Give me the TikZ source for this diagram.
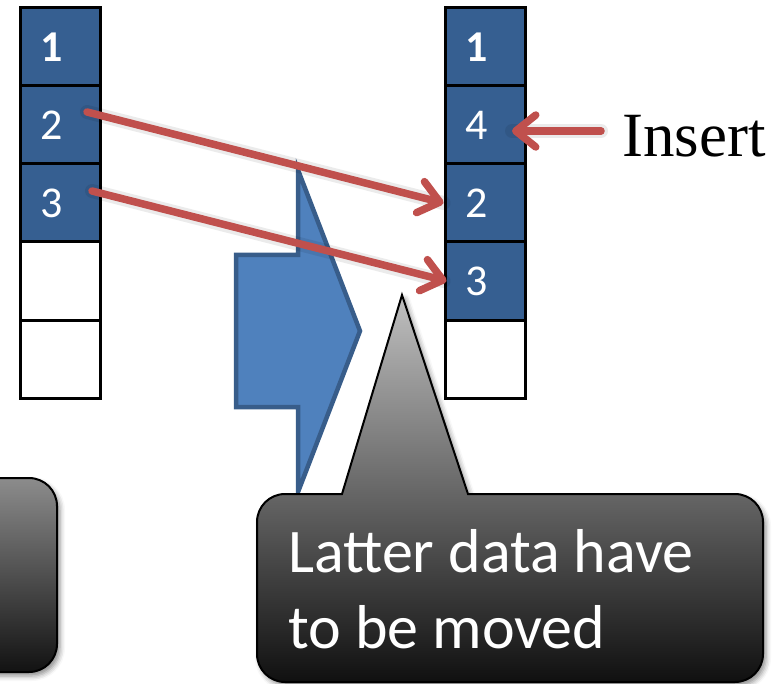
\documentclass[tikz,border=0pt]{standalone}
\usepackage{fontspec}
\setmainfont{Carlito}
\newfontfamily\serifface{Liberation Serif}
\usetikzlibrary{arrows.meta,shadows.blur}
\definecolor{cellblue}{RGB}{54,95,145}
\definecolor{arrowred}{RGB}{192,80,77}
\definecolor{blockfill}{RGB}{79,129,189}
\definecolor{blockline}{RGB}{56,93,138}
\begin{document}
\begin{tikzpicture}[x=1pt,y=-1pt,
  cell/.style={draw=black, line width=3pt, minimum height=78pt,
    text width=40pt, inner xsep=20pt, inner ysep=0pt, align=left,
    text=white, font=\fontsize{44}{44}\selectfont},
  full/.style={cell, fill=cellblue},
  empty/.style={cell, fill=white},
  move/.style={draw=arrowred, line width=7.5pt, line cap=round,
    -{Straight Barb[length=20pt,width=32pt,round]}},
  moveshade/.style={draw=black, draw opacity=0.08, line width=14pt,
    line cap=round, shift={(2pt,-3pt)}},
  bubble/.style={draw=black, line width=2pt,
    blur shadow={shadow xshift=3pt, shadow yshift=-4pt,
      shadow blur radius=5pt, shadow opacity=45}},
]
\useasboundingbox (0,0) rectangle (778,684);

% array before insertion
\node[full] (L1) at (60,47)  {\bfseries 1};
\node[full] (L2) at (60,125) {2};
\node[full] (L3) at (60,203) {3};
\node[empty] (L4) at (60,281) {};
\node[empty] (L5) at (60,359) {};

% array after insertion
\node[full] (R1) at (485,47)  {\bfseries 1};
\node[full] (R2) at (485,125) {4};
\node[full] (R3) at (485,203) {2};
\node[full] (R4) at (485,281) {3};
\node[empty] (R5) at (485,359) {};

% block arrow between the two states
\path[draw=blockline, fill=blockfill, line width=4.5pt, line join=miter]
  (236,255) -- (298,255) -- (298,170) -- (360,331) -- (298,492)
  -- (298,407) -- (236,407) -- cycle;

% left callout, cut by the page edge
\path[bubble, rounded corners=28pt,
  top color={rgb,255:red,140;green,140;blue,140},
  bottom color={rgb,255:red,18;green,18;blue,18}]
  (-80,478) rectangle (57,672);

% right callout with its pointer (sharp corners where the pointer meets the box)
\path[bubble,
  top color={rgb,255:red,192;green,192;blue,192},
  middle color={rgb,255:red,140;green,140;blue,140},
  bottom color={rgb,255:red,16;green,16;blue,16}]
  (257,588) [rounded corners=28pt] -- (257,494)
  [sharp corners] -- (342,494) -- (402,295) -- (468,494)
  [rounded corners=28pt] -- (763,494) -- (763,682) -- (257,682) -- cycle;
\node[anchor=base west, inner sep=0pt, align=left, text=white,
  font=\fontsize{62}{76}\selectfont] (note) at (288,648)
  {Latter data have\\to be moved};

% moved elements
\coordinate (from2) at (87,112);
\coordinate (from3) at (92,191);
\draw[moveshade] (from2) -- (R3.west);
\draw[moveshade] (from3) -- (R4.west);
\draw[move] (from2) -- (R3.west);
\draw[move] (from3) -- ([xshift=3pt]R4.west);

% inserted element
\node[anchor=base west, inner sep=0pt,
  font=\serifface\fontsize{63}{63}\selectfont] (ins) at (622,157) {Insert};
\coordinate (insTail) at (601,131);
\coordinate (insTip) at (512,131);
\draw[moveshade] (insTail) -- (insTip);
\draw[move] (insTail) -- (insTip);
\end{tikzpicture}
\end{document}
